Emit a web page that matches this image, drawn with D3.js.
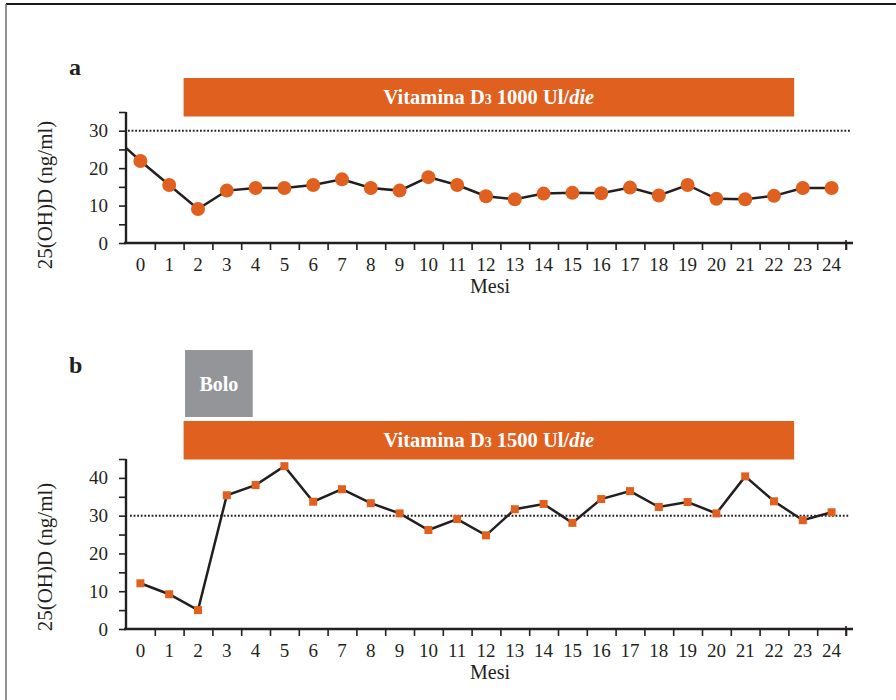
<!DOCTYPE html>
<html>
<head>
<meta charset="utf-8">
<script src="https://cdn.jsdelivr.net/npm/d3@7"></script>
<style>
  body { margin: 0; background: #fff; }
  svg { display: block; font-family: "Liberation Serif", "Times New Roman", serif; }
  .axis path { display: none; }
  .axis line { stroke: #231f20; stroke-width: 1.6; }
  .axis text { fill: #231f20; font-size: 19px; font-family: "Liberation Serif", serif; }
</style>
</head>
<body>
<svg id="chart" width="896" height="700"></svg>
<script>
// months on the x axis
const months = [0, 1, 2, 3, 4, 5, 6, 7, 8, 9, 10, 11, 12, 13, 14, 15, 16, 17, 18, 19, 20, 21, 22, 23, 24];

// panel a: 25(OH)D, vitamin D3 1000 UI/die
const startA = 25.4; // line starts at the y axis
const valuesA = [21.9, 15.5, 9.1, 14.0, 14.7, 14.7, 15.5, 17.0, 14.7, 14.0, 17.6, 15.5,
                 12.5, 11.7, 13.2, 13.4, 13.3, 14.8, 12.7, 15.5, 11.8, 11.7, 12.6, 14.7, 14.7];

// panel b: 25(OH)D, bolus + vitamin D3 1500 UI/die
const valuesB = [12.1, 9.2, 5.0, 35.4, 38.1, 43.1, 33.7, 37.0, 33.3, 30.6, 26.2, 29.1,
                 24.8, 31.7, 33.1, 28.1, 34.4, 36.5, 32.3, 33.6, 30.6, 40.4, 33.8, 28.8, 30.9];

const yTicksA = [0, 5, 10, 15, 20, 25, 30, 35];
const yTicksB = [0, 5, 10, 15, 20, 25, 30, 35, 40, 45];
const threshold = 30;

const orange = '#e0601f';
const ink = '#231f20';

const svg = d3.select('#chart');

// frame (top and left edges only)
svg.append('line').attr('x1', 6).attr('x2', 896).attr('y1', 4).attr('y2', 4)
  .attr('stroke', '#1a1a1a').attr('stroke-width', 2);
svg.append('line').attr('x1', 6).attr('x2', 6).attr('y1', 4).attr('y2', 700)
  .attr('stroke', '#6d6d6d').attr('stroke-width', 1.5);

function drawPanel(cfg) {
  const x = d3.scaleBand().domain(months).range([126, 846]).padding(0);
  // linear helper in "band index" units for ticks and banners
  const xi = d3.scaleLinear().domain([0, months.length]).range(x.range());
  const y = d3.scaleLinear().domain([0, cfg.yMax]).range([cfg.bottom, cfg.top]);
  const cx = m => x(m) + x.bandwidth() / 2;

  const g = svg.append('g');

  // panel letter
  g.append('text').attr('x', 69).attr('y', cfg.letterY)
    .style('font-size', '24px').style('font-weight', 'bold').attr('fill', ink)
    .text(cfg.letter);

  // bolus box
  if (cfg.bolo) {
    g.append('rect')
      .attr('x', xi(cfg.bolo.from)).attr('width', xi(cfg.bolo.to) - xi(cfg.bolo.from))
      .attr('y', cfg.bolo.top).attr('height', cfg.bolo.height)
      .attr('fill', '#939598');
    g.append('text')
      .attr('x', (xi(cfg.bolo.from) + xi(cfg.bolo.to)) / 2)
      .attr('y', cfg.bolo.top + cfg.bolo.height / 2 + 7)
      .attr('text-anchor', 'middle').attr('fill', '#fff')
      .style('font-size', '20px').style('font-weight', 'bold')
      .text('Bolo');
  }

  // treatment banner
  const bx0 = xi(cfg.banner.from), bx1 = xi(cfg.banner.to);
  g.append('rect').attr('x', bx0).attr('width', bx1 - bx0)
    .attr('y', cfg.banner.top).attr('height', 38.5).attr('fill', orange);
  const bt = g.append('text')
    .attr('x', (bx0 + bx1) / 2).attr('y', cfg.banner.top + 25.5)
    .attr('text-anchor', 'middle').attr('fill', '#fff')
    .style('font-size', '20.5px').style('font-weight', 'bold');
  bt.append('tspan').text('Vitamina D');
  bt.append('tspan').style('font-size', '14px').text('3');
  bt.append('tspan').text(' ' + cfg.dose + ' Ul/');
  bt.append('tspan').style('font-style', 'italic').text('die');

  // threshold dotted line
  g.append('line')
    .attr('x1', cfg.dotFrom).attr('x2', 850)
    .attr('y1', y(threshold)).attr('y2', y(threshold))
    .attr('stroke', ink).attr('stroke-width', 2)
    .attr('stroke-dasharray', '1.8,1.8');

  // y axis
  const yAxis = d3.axisLeft(y).tickValues(cfg.yTicks).tickSize(7).tickPadding(11)
    .tickFormat(d => d % 10 === 0 ? d : '');
  g.append('g').attr('class', 'axis').attr('transform', 'translate(126,0)').call(yAxis);
  g.append('line').attr('x1', 126).attr('x2', 126).attr('y1', y(cfg.yMax)).attr('y2', cfg.bottom + 1)
    .attr('stroke', ink).attr('stroke-width', 2.4);

  // x axis: boundary ticks + centred labels
  const xTicks = d3.axisBottom(xi).tickValues(d3.range(1, months.length + 1)).tickSize(7).tickFormat('');
  g.append('g').attr('class', 'axis').attr('transform', `translate(0,${cfg.bottom})`).call(xTicks);
  const xLabels = d3.axisBottom(x).tickSize(0).tickPadding(15);
  g.append('g').attr('class', 'axis').attr('transform', `translate(0,${cfg.bottom})`).call(xLabels);
  g.append('line').attr('x1', 124).attr('x2', 853).attr('y1', cfg.bottom).attr('y2', cfg.bottom)
    .attr('stroke', ink).attr('stroke-width', 2.4);
  // last tick crosses the axis
  g.append('line').attr('x1', xi(months.length)).attr('x2', xi(months.length))
    .attr('y1', cfg.bottom - 3).attr('y2', cfg.bottom + 7)
    .attr('stroke', ink).attr('stroke-width', 1.6);

  // axis titles
  g.append('text').attr('x', 490).attr('y', cfg.bottom + 50)
    .attr('text-anchor', 'middle').attr('fill', ink).style('font-size', '20px')
    .text('Mesi');
  g.append('text')
    .attr('transform', `translate(52,${cfg.titleY}) rotate(-90)`)
    .attr('text-anchor', 'middle').attr('fill', ink).style('font-size', '21px')
    .text('25(OH)D (ng/ml)');

  // data line
  const pts = cfg.values.map((v, i) => [cx(months[i]), y(v)]);
  if (cfg.start != null) pts.unshift([xi(0), y(cfg.start)]);
  g.append('path').attr('d', d3.line()(pts))
    .attr('fill', 'none').attr('stroke', ink).attr('stroke-width', 2.5)
    .attr('stroke-linejoin', 'miter');

  // markers
  if (cfg.marker === 'circle') {
    g.selectAll('circle.pt').data(cfg.values).join('circle')
      .attr('class', 'pt')
      .attr('cx', (d, i) => cx(months[i])).attr('cy', d => y(d))
      .attr('r', 7).attr('fill', orange);
  } else {
    const s = 8;
    g.selectAll('rect.pt').data(cfg.values).join('rect')
      .attr('class', 'pt')
      .attr('x', (d, i) => cx(months[i]) - s / 2).attr('y', d => y(d) - s / 2)
      .attr('width', s).attr('height', s).attr('fill', orange);
  }
}

drawPanel({
  letter: 'a', letterY: 75,
  top: 112, bottom: 243, yMax: 35, yTicks: yTicksA,
  values: valuesA, start: startA, marker: 'circle',
  banner: { from: 2, to: 23.2, top: 78, },
  dose: '1000', dotFrom: 128, titleY: 195
});

drawPanel({
  letter: 'b', letterY: 373,
  top: 459, bottom: 629, yMax: 45, yTicks: yTicksB,
  values: valuesB, marker: 'square',
  bolo: { from: 2.05, to: 4.4, top: 350, height: 67 },
  banner: { from: 2, to: 23.2, top: 421 },
  dose: '1500', dotFrom: 130, titleY: 557
});
</script>
</body>
</html>
